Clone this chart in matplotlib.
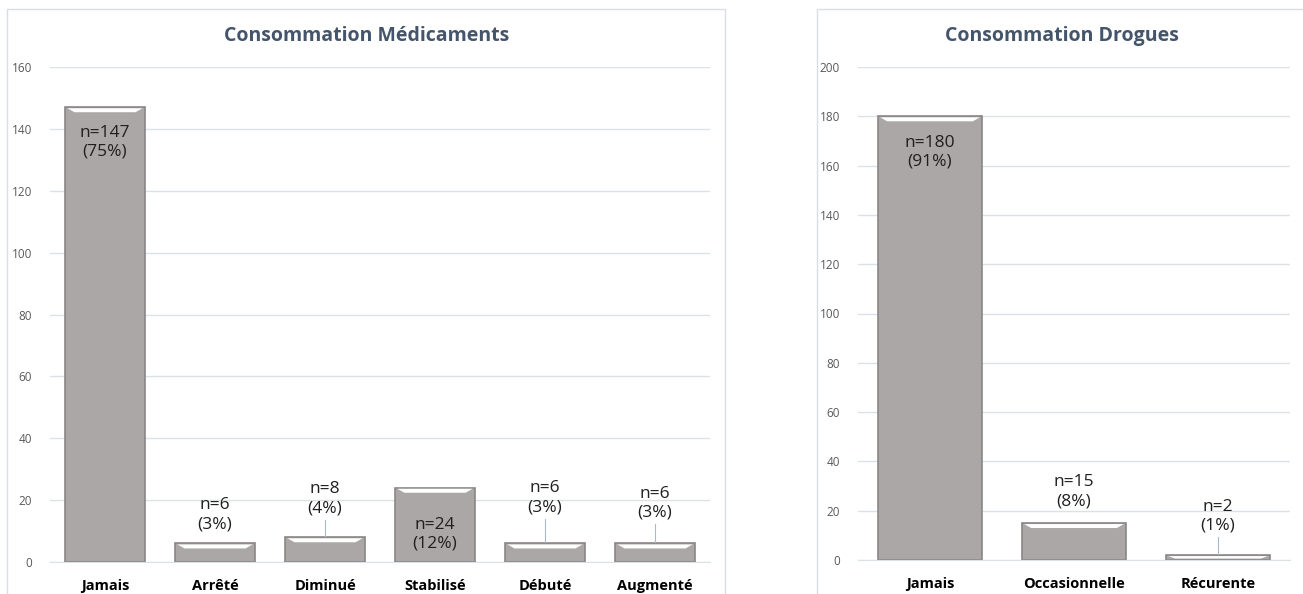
# coding=utf-8
"""
Consommation médicaments / drogues - barres avec libellés
"""

import matplotlib
matplotlib.use('Agg')
import matplotlib.pyplot as plt
from matplotlib.patches import Rectangle, Polygon

# Données
med_categories = ['Jamais', 'Arrêté', 'Diminué', 'Stabilisé', 'Débuté', 'Augmenté']
med_values = [147, 6, 8, 24, 6, 6]
med_labels = ['n=147\n(75%)', 'n=6\n(3%)', 'n=8\n(4%)', 'n=24\n(12%)',
              'n=6\n(3%)', 'n=6\n(3%)']
med_label_y = [135.7, 15.2, 20.4, 9.0, 20.7, 19.0]
med_ticks = [0, 20, 40, 60, 80, 100, 120, 140, 160]

drg_categories = ['Jamais', 'Occasionnelle', 'Récurente']
drg_values = [180, 15, 2]
drg_labels = ['n=180\n(91%)', 'n=15\n(8%)', 'n=2\n(1%)']
drg_label_y = [165.5, 27.6, 17.8]
drg_ticks = [0, 20, 40, 60, 80, 100, 120, 140, 160, 180, 200]

# Styles
FONT = ['Open Sans', 'DejaVu Sans']
BAR = '#ABA7A7'
BAR_EDGE = '#8A8686'
GRID = '#D9E1EA'
TICK = '#595959'
TITLE = '#44546A'
W = 0.72

plt.rcParams['font.family'] = FONT

fig = plt.figure(figsize=(13.03, 5.94), dpi=100)
FW, FH = 1303.0, 594.0

# Cadres des deux graphiques
fig.patches.append(Rectangle((7 / FW, -0.1), 718 / FW, 1.1 - 9 / FH,
                             transform=fig.transFigure, fill=False,
                             edgecolor='#D9DEE6', linewidth=1))
fig.patches.append(Rectangle((817 / FW, -0.1), 0.5, 1.1 - 9 / FH,
                             transform=fig.transFigure, fill=False,
                             edgecolor='#D9DEE6', linewidth=1))


def trace(rect, cats, vals, labels, label_y, ticks, titre, title_x):
    ax = fig.add_axes(rect)
    x = list(range(len(cats)))
    ax.set_xlim(-0.5, len(cats) - 0.5)
    ax.set_ylim(0, ticks[-1])

    # Echelles pixels -> données
    px_y = ticks[-1] / ax.bbox.height
    px_x = len(cats) / ax.bbox.width

    ax.bar(x, vals, width=W, color=BAR, edgecolor=BAR_EDGE, linewidth=1.2,
           zorder=2)

    # Effet biseau en haut des barres
    for xi, v in zip(x, vals):
        h = min(4 * px_y, v * 0.5)
        top = v - 1 * px_y
        pts = [(xi - W / 2 + 2 * px_x, top), (xi + W / 2 - 2 * px_x, top),
               (xi + W / 2 - 9 * px_x, top - h), (xi - W / 2 + 9 * px_x, top - h)]
        ax.add_patch(Polygon(pts, closed=True, facecolor='white',
                             edgecolor='none', zorder=3))

    # Libellés et lignes de rappel
    for xi, v, lab, ly in zip(x, vals, labels, label_y):
        ax.text(xi, ly, lab, ha='center', va='center', fontsize=12.5,
                color='#1F1F1F', linespacing=1.25, zorder=4)
        bas = ly - 21 * px_y
        if bas - v > 12 * px_y:
            ax.plot([xi, xi], [v + 1 * px_y, bas], color='#A9B8CC',
                    linewidth=0.8, zorder=3)

    ax.set_yticks(ticks)
    ax.set_xticks(x)
    ax.set_xticklabels(cats, fontsize=10.5, fontweight='bold', color='black')
    ax.tick_params(axis='y', labelsize=8.5, labelcolor=TICK, length=0, pad=13)
    ax.tick_params(axis='x', length=0, pad=12)
    ax.grid(axis='y', color=GRID, linewidth=1)
    ax.set_axisbelow(True)
    for s in ax.spines.values():
        s.set_visible(False)
    ax.spines['bottom'].set_visible(True)
    ax.spines['bottom'].set_color(GRID)

    fig.text(title_x, 1 - 36 / FH, titre, ha='center', va='center',
             fontsize=14, fontweight='bold', color=TITLE)
    return ax


trace([50 / FW, 1 - 562 / FH, 660 / FW, 495 / FH], med_categories, med_values,
      med_labels, med_label_y, med_ticks, 'Consommation Médicaments', 367 / FW)
trace([858 / FW, 1 - 560 / FH, 432 / FW, 493 / FH], drg_categories, drg_values,
      drg_labels, drg_label_y, drg_ticks, 'Consommation Drogues', 1062 / FW)

fig.savefig('out.png', dpi=100, facecolor='white')
